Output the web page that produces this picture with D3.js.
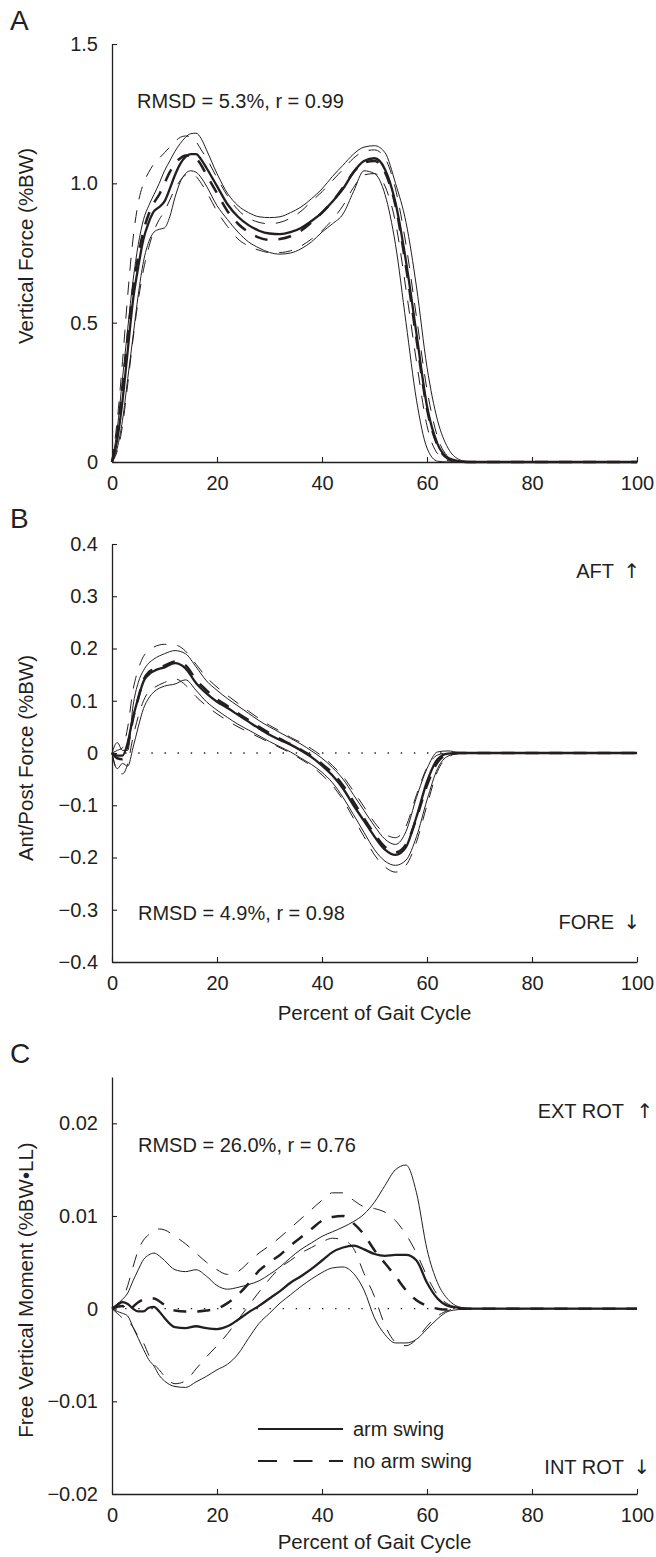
<!DOCTYPE html>
<html><head><meta charset="utf-8">
<script src="https://cdn.jsdelivr.net/npm/d3@7"></script>
<style>
body{margin:0;background:#fff}
svg{display:block}
text{font-family:"Liberation Sans",Arial,Helvetica,sans-serif;fill:#231f20}
text.arrow{font-family:"DejaVu Sans",sans-serif}
</style>
</head><body>
<svg id="chart" width="656" height="1557"></svg>
<script>
// ---------- DATA ----------
const xTicks = [0, 20, 40, 60, 80, 100];

// Panel A: Vertical force
const pctA = [0,1,2,3,4,5,6,7,8,9,10,11,12,13,14,15,16,17,18,20,22,24,26,28,30,32,34,36,38,40,42,44,46,48,50,52,54,56,58,60,62,64,66,68,70,100];
const armMeanA  = [0,0.08,0.22,0.4,0.58,0.7,0.8,0.86,0.9,0.915,0.935,0.98,1.03,1.07,1.095,1.105,1.105,1.085,1.055,0.99,0.925,0.88,0.85,0.83,0.82,0.818,0.825,0.84,0.865,0.895,0.935,0.98,1.04,1.08,1.09,1.05,0.93,0.72,0.46,0.2,0.065,0.015,0.003,0,0,0];
const armUpA    = [0,0.12,0.3,0.48,0.65,0.78,0.87,0.92,0.96,1.0,1.045,1.08,1.115,1.143,1.165,1.178,1.18,1.16,1.12,1.035,0.964,0.92,0.895,0.88,0.877,0.88,0.895,0.915,0.945,0.98,1.025,1.065,1.105,1.13,1.135,1.11,1.0,0.86,0.628,0.34,0.15,0.05,0.01,0,0,0];
const armLowA   = [0,0.05,0.15,0.3,0.45,0.6,0.72,0.79,0.825,0.835,0.84,0.88,0.95,1.005,1.035,1.045,1.04,1.02,0.99,0.92,0.87,0.825,0.79,0.768,0.752,0.746,0.75,0.765,0.79,0.825,0.855,0.89,0.97,1.045,1.035,0.96,0.78,0.5,0.222,0.05,0.003,0,0,0,0,0];
const noArmMeanA= [0,0.1,0.26,0.45,0.62,0.74,0.83,0.89,0.93,0.96,1.0,1.04,1.07,1.09,1.1,1.1,1.09,1.065,1.03,0.965,0.9,0.855,0.825,0.805,0.797,0.8,0.81,0.83,0.86,0.895,0.935,0.985,1.04,1.075,1.08,1.04,0.92,0.7,0.44,0.19,0.06,0.012,0.002,0,0,0];
const noArmUpA  = [0,0.15,0.36,0.6,0.8,0.93,1.0,1.04,1.07,1.09,1.11,1.13,1.15,1.165,1.17,1.165,1.15,1.12,1.09,1.02,0.955,0.905,0.875,0.86,0.855,0.86,0.875,0.9,0.935,0.97,1.01,1.05,1.09,1.115,1.12,1.09,0.98,0.78,0.52,0.26,0.09,0.02,0.003,0,0,0];
const noArmLowA = [0,0.04,0.13,0.28,0.44,0.58,0.69,0.77,0.83,0.87,0.9,0.94,0.98,1.01,1.03,1.035,1.025,1.0,0.97,0.9,0.845,0.8,0.775,0.76,0.752,0.752,0.758,0.775,0.8,0.83,0.87,0.92,0.985,1.03,1.035,0.99,0.86,0.62,0.36,0.13,0.03,0.005,0,0,0,0];
const yTicksA = [0, 0.5, 1.0, 1.5];

// Panel B: Ant/Post force
const pctB = [0,1,2,3,4,5,6,7,8,10,12,14,16,18,20,22,24,26,28,30,32,34,36,38,40,42,44,46,48,50,52,54,56,58,60,62,64,66,68,70,100];
const armMeanB  = [0,-0.005,-0.005,0.02,0.068,0.105,0.137,0.15,0.157,0.164,0.172,0.162,0.134,0.114,0.098,0.086,0.073,0.06,0.047,0.035,0.025,0.016,0.005,-0.008,-0.024,-0.043,-0.068,-0.1,-0.13,-0.16,-0.185,-0.195,-0.18,-0.122,-0.055,-0.012,-0.001,0,0,0,0];
const armUpB    = [0,0.02,0.005,0.005,0.09,0.135,0.158,0.172,0.18,0.19,0.196,0.19,0.165,0.138,0.12,0.104,0.09,0.076,0.062,0.05,0.039,0.028,0.017,0.004,-0.01,-0.028,-0.05,-0.08,-0.11,-0.14,-0.165,-0.175,-0.15,-0.085,-0.03,0.002,0.004,0.001,0,0,0];
const armLowB   = [0,-0.03,-0.02,-0.025,0.01,0.05,0.085,0.105,0.117,0.128,0.132,0.14,0.12,0.098,0.082,0.068,0.055,0.044,0.033,0.022,0.012,0.002,-0.01,-0.022,-0.037,-0.057,-0.085,-0.118,-0.152,-0.185,-0.207,-0.215,-0.205,-0.16,-0.09,-0.03,-0.006,-0.001,0,0,0];
const noArmMeanB= [0,-0.01,-0.012,0.015,0.065,0.105,0.14,0.155,0.16,0.167,0.175,0.168,0.14,0.12,0.103,0.09,0.076,0.063,0.05,0.038,0.027,0.017,0.006,-0.006,-0.021,-0.038,-0.062,-0.093,-0.125,-0.155,-0.18,-0.19,-0.175,-0.125,-0.062,-0.018,-0.003,0,0,0,0];
const noArmUpB  = [0,0.005,0.01,0.05,0.12,0.16,0.185,0.195,0.203,0.208,0.207,0.195,0.17,0.145,0.126,0.11,0.095,0.08,0.066,0.053,0.042,0.03,0.02,0.008,-0.006,-0.024,-0.045,-0.073,-0.103,-0.133,-0.155,-0.162,-0.14,-0.08,-0.028,-0.004,0,0,0,0,0];
const noArmLowB = [0,-0.035,-0.04,-0.02,0.03,0.07,0.1,0.118,0.125,0.135,0.142,0.13,0.108,0.09,0.075,0.062,0.05,0.04,0.03,0.02,0.01,0,-0.012,-0.025,-0.042,-0.062,-0.09,-0.125,-0.16,-0.195,-0.218,-0.228,-0.215,-0.17,-0.1,-0.035,-0.008,-0.001,0,0,0];
const yTicksB = [-0.4, -0.3, -0.2, -0.1, 0, 0.1, 0.2, 0.3, 0.4];

// Panel C: Free vertical moment
const pctC = [0,1,2,3,4,5,6,7,8,9,10,12,14,16,18,20,22,24,26,28,30,32,34,36,38,40,42,44,46,48,50,52,54,56,58,60,62,64,66,68,70,100];
const armMeanC  = [0,0.0004,0.0007,0.0005,0,-0.0003,-0.0003,0.0001,0.0002,-0.0003,-0.001,-0.002,-0.0021,-0.0019,-0.0021,-0.0022,-0.0019,-0.0012,-0.0004,0.0003,0.0011,0.0019,0.0028,0.0035,0.0043,0.0052,0.0061,0.0066,0.0068,0.0064,0.0059,0.0057,0.0058,0.0058,0.0052,0.0028,0.0011,0.0003,0.0001,0,0,0];
const armUpC    = [0,0.0005,0.001,0.0017,0.003,0.0042,0.0053,0.0058,0.006,0.0057,0.0052,0.0042,0.004,0.0042,0.0035,0.0025,0.0021,0.0023,0.0026,0.003,0.0037,0.0045,0.0055,0.0064,0.0071,0.0078,0.0083,0.0088,0.0094,0.0102,0.0115,0.0133,0.015,0.0155,0.0125,0.0064,0.0028,0.001,0.0002,0,0,0];
const armLowC   = [0,-0.0003,-0.0005,-0.0008,-0.002,-0.0032,-0.0044,-0.0055,-0.0062,-0.0072,-0.0078,-0.0084,-0.0085,-0.0079,-0.0073,-0.0066,-0.006,-0.0049,-0.0032,-0.0016,-0.0005,0.0006,0.0015,0.0024,0.0032,0.0039,0.0044,0.0045,0.0038,0.002,-0.001,-0.0028,-0.0037,-0.0037,-0.0033,-0.0022,-0.0011,-0.0003,-0.0001,0,0,0];
const noArmMeanC= [0,0.0002,0.0003,-0.0003,0.0002,0.0007,0.001,0.0011,0.0011,0.0008,0.0004,-0.0002,-0.0003,-0.0003,-0.0002,0,0.0006,0.0015,0.0027,0.0041,0.005,0.0058,0.0068,0.0077,0.0086,0.0095,0.0099,0.01,0.0092,0.008,0.0063,0.0049,0.0035,0.002,0.0009,0.0003,0,-0.0001,0,0,0,0];
const noArmUpC  = [0,0.0005,0.001,0.0025,0.0045,0.0063,0.0074,0.008,0.0085,0.0086,0.0085,0.0078,0.007,0.006,0.005,0.0042,0.0037,0.004,0.005,0.006,0.0068,0.0077,0.0087,0.0097,0.0107,0.0117,0.0125,0.0125,0.0117,0.011,0.0108,0.0104,0.0095,0.008,0.006,0.0035,0.0015,0.0005,0.0001,0,0,0];
const noArmLowC = [0,-0.0005,-0.001,-0.0013,-0.002,-0.003,-0.0037,-0.005,-0.006,-0.0066,-0.0073,-0.0081,-0.0078,-0.0065,-0.0052,-0.004,-0.0027,-0.0012,0.0003,0.0018,0.0032,0.0044,0.0052,0.006,0.0066,0.0072,0.0076,0.0074,0.0065,0.0038,0.0013,-0.0018,-0.0036,-0.004,-0.0033,-0.0019,-0.0008,-0.0002,0,0,0,0];
const yTicksC = [-0.02, -0.01, 0, 0.01, 0.02];

const legendLabels = ["arm swing", "no arm swing"];

// ---------- DRAW ----------
const INK = "#231f20";
const FONT = 20;
const FONT_T = 20.5;
const svg = d3.select("#chart");
const x = d3.scaleLinear().domain([0, 100]).range([112, 637]);

const minus = v => (v < 0 ? "\u2212" : "");
const panels = [
  { letter: "A", letterY: 30, grid: pctA, domain: [0, 1.5], range: [462, 44], yTicks: yTicksA,
    fmt: d => d === 0 ? "0" : d.toFixed(1), series: [armUpA, armLowA, noArmUpA, noArmLowA, armMeanA, noArmMeanA],
    yLabel: "Vertical Force (%BW)", yLabelC: 246, zeroLine: false, xTitle: null },
  { letter: "B", letterY: 528, grid: pctB, domain: [-0.4, 0.4], range: [962, 544], yTicks: yTicksB,
    fmt: d => Math.abs(d) < 1e-9 ? "0" : minus(d) + Math.abs(d).toFixed(1), series: [armUpB, armLowB, noArmUpB, noArmLowB, armMeanB, noArmMeanB],
    yLabel: "Ant/Post Force (%BW)", yLabelC: 758, zeroLine: true, xTitle: 1020 },
  { letter: "C", letterY: 1063, grid: pctC, domain: [-0.02, 0.025], range: [1494, 1077], yTicks: yTicksC,
    fmt: d => Math.abs(d) < 1e-9 ? "0" : minus(d) + Math.abs(d).toFixed(2), series: [armUpC, armLowC, noArmUpC, noArmLowC, armMeanC, noArmMeanC],
    yLabel: "Free Vertical Moment (%BW\u2022LL)", yLabelC: 1290, zeroLine: true, xTitle: 1549 }
];

const styles = [
  { w: 1.0, dash: null }, { w: 1.0, dash: null },
  { w: 1.0, dash: "13,11" }, { w: 1.0, dash: "13,11" },
  { w: 2.3, dash: null }, { w: 2.5, dash: "13,11" }
];

panels.forEach(p => {
  const y = d3.scaleLinear().domain(p.domain).range(p.range);
  const g = svg.append("g");

  if (p.zeroLine) {
    g.append("line").attr("x1", x(0)).attr("x2", x(100)).attr("y1", y(0)).attr("y2", y(0))
      .attr("stroke", INK).attr("stroke-width", 1.3).attr("stroke-dasharray", "1.4,11.725");
  }

  const line = d3.line().x(d => x(d[0])).y(d => y(d[1])).curve(d3.curveMonotoneX);
  p.series.forEach((vals, i) => {
    const pts = p.grid.map((g0, k) => [g0, vals[k]]).filter(d => d[1] !== undefined);
    g.append("path").datum(pts).attr("d", line).attr("fill", "none")
      .attr("stroke", INK).attr("stroke-width", styles[i].w)
      .attr("stroke-dasharray", styles[i].dash).attr("stroke-linejoin", "round");
  });

  const ya = g.append("g").attr("transform", `translate(${x(0)},0)`)
    .call(d3.axisLeft(y).tickValues(p.yTicks).tickFormat(p.fmt).tickSize(-5).tickSizeOuter(0).tickPadding(14));
  const xa = g.append("g").attr("transform", `translate(0,${p.range[0]})`)
    .call(d3.axisBottom(x).tickValues(xTicks).tickFormat(d3.format("d")).tickSize(-5).tickSizeOuter(0).tickPadding(13.5));
  [ya, xa].forEach(a => {
    a.attr("font-size", FONT).attr("font-family", null);
    a.selectAll("path.domain").attr("stroke", INK).attr("stroke-width", 1.3);
    a.selectAll(".tick line").attr("stroke", INK).attr("stroke-width", 1.1);
    a.selectAll(".tick text").attr("fill", INK);
  });

  svg.append("text").attr("x", 10).attr("y", p.letterY).attr("font-size", 28).text(p.letter);

  svg.append("text").attr("transform", `translate(33,${p.yLabelC}) rotate(-90)`)
    .attr("text-anchor", "middle").attr("font-size", FONT_T).text(p.yLabel);

  if (p.xTitle) {
    svg.append("text").attr("x", (x(0) + x(100)) / 2).attr("y", p.xTitle)
      .attr("text-anchor", "middle").attr("font-size", FONT_T).text("Percent of Gait Cycle");
  }
});

const ann = (t, xx, yy, anchor, cls) => svg.append("text").attr("x", xx).attr("y", yy)
  .attr("class", cls || null)
  .attr("text-anchor", anchor || "start").attr("font-size", FONT).text(t);
ann("RMSD = 5.3%, r = 0.99", 137, 108);
ann("RMSD = 4.9%, r = 0.98", 138, 920);
ann("RMSD = 26.0%, r = 0.76", 138, 1152);
ann("AFT", 614, 578, "end");
ann("\u2191", 632, 578, "middle", "arrow");
ann("FORE", 614, 929, "end");
ann("\u2193", 632, 929, "middle", "arrow");
ann("EXT ROT", 624, 1118, "end");
ann("\u2191", 645, 1118, "middle", "arrow");
ann("INT ROT", 624, 1474, "end");
ann("\u2193", 642, 1474, "middle", "arrow");

const leg = svg.append("g");
[[1429, null], [1461, "19,16.5"]].forEach((r, i) => {
  leg.append("line").attr("x1", 258).attr("x2", 343).attr("y1", r[0]).attr("y2", r[0])
    .attr("stroke", INK).attr("stroke-width", 2.2).attr("stroke-dasharray", r[1]);
  leg.append("text").attr("x", 353).attr("y", r[0] + 7).attr("font-size", FONT).text(legendLabels[i]);
});
</script>
</body></html>
